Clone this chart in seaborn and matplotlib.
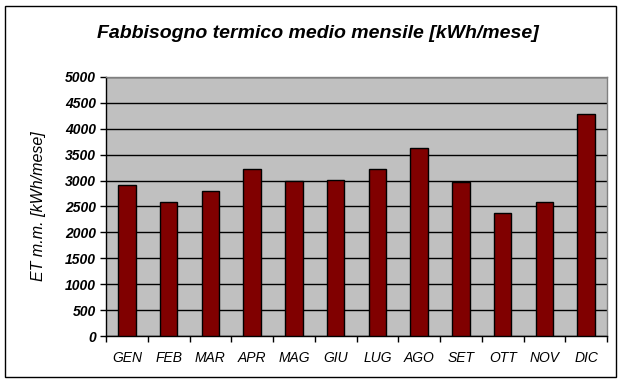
import matplotlib
matplotlib.use("Agg")
import matplotlib.pyplot as plt
import seaborn as sns
import pandas as pd
from matplotlib.patches import Rectangle
from matplotlib.ticker import FixedLocator

months = ["GEN", "FEB", "MAR", "APR", "MAG", "GIU", "LUG", "AGO", "SET", "OTT", "NOV", "DIC"]
values = [2910, 2580, 2795, 3220, 2990, 3005, 3220, 3625, 2970, 2370, 2580, 4285]
yticks = [0, 500, 1000, 1500, 2000, 2500, 3000, 3500, 4000, 4500, 5000]

sns.set_theme(style="white")
plt.rcParams['font.family'] = ['Liberation Sans', 'DejaVu Sans']
plt.rcParams['text.color'] = 'black'
plt.rcParams['axes.labelcolor'] = 'black'
plt.rcParams['xtick.color'] = 'black'
plt.rcParams['ytick.color'] = 'black'

df = pd.DataFrame({"mese": months, "val": values})

W, H = 623, 383
fig = plt.figure(figsize=(W / 100, H / 100), dpi=100)
ax = fig.add_axes([106 / W, 1 - 336 / H, (607 - 106) / W, (336 - 77) / H])
ax.set_facecolor("#C0C0C0")

sns.barplot(data=df, x="mese", y="val", ax=ax, color="#800000", width=0.42,
            edgecolor="black", linewidth=1, saturation=1, zorder=3)

ax.set_ylim(0, 5000)
ax.set_xlim(-0.5, 11.5)
ax.set_yticks(yticks)
ax.set_yticklabels([str(v) for v in yticks], fontsize=10, fontweight="bold", fontstyle="italic")
ax.yaxis.grid(True, color="black", linewidth=1, zorder=1)
ax.set_axisbelow(True)

ax.set_xticks(range(12))
ax.set_xticklabels(months, fontsize=10, fontstyle="italic")
ax.tick_params(axis="x", which="major", length=0, pad=11)
ax.xaxis.set_minor_locator(FixedLocator([i - 0.5 for i in range(13)]))
ax.tick_params(axis="x", which="minor", length=4, width=1, color="black", direction="out", bottom=True)
ax.tick_params(axis="y", length=4, width=1, color="black", direction="out", left=True, pad=3)

for s in ["top", "right"]:
    ax.spines[s].set_color("#808080")
    ax.spines[s].set_linewidth(1)
for s in ["left", "bottom"]:
    ax.spines[s].set_color("black")
    ax.spines[s].set_linewidth(1)

ax.set_xlabel("")
ax.set_ylabel("ET m.m. [kWh/mese]", fontsize=11.5, fontstyle="italic", labelpad=14)

fig.text(318 / W, 1 - 33 / H, "Fabbisogno termico medio mensile [kWh/mese]",
         ha="center", va="center", fontsize=14, fontweight="bold", fontstyle="italic")

fig.patches.append(Rectangle((5 / W, 6 / H), (616 - 5) / W, (377 - 6) / H,
                             transform=fig.transFigure, fill=False,
                             edgecolor="black", linewidth=1))

fig.savefig("out.png", dpi=100)
